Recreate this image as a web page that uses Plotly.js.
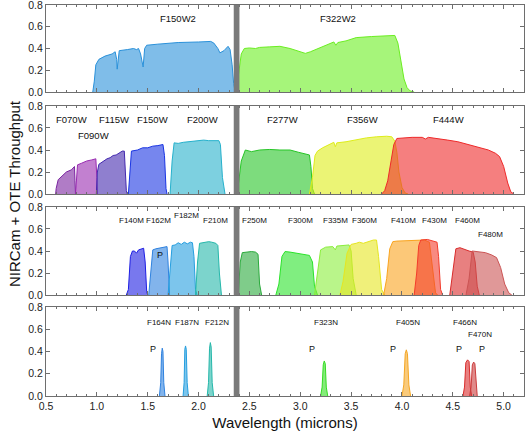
<!DOCTYPE html>
<html>
<head>
<meta charset="utf-8">
<script src="https://cdn.plot.ly/plotly-3.0.1.min.js"></script>
<style>html,body{margin:0;padding:0;background:#fff}#chart{width:525px;height:435px}</style>
</head>
<body>
<div id="chart"></div>
<script>
// ---------------- data (wavelength in microns, throughput) ----------------
// Panel 1: W2 filters
const f150w2_x = [0.96,0.975,0.99,1.02,1.08,1.15,1.18,1.195,1.20,1.21,1.22,1.30,1.36,1.39,1.41,1.43,1.455,1.47,1.49,1.60,1.80,2.00,2.12,2.15,2.19,2.21,2.25,2.29,2.31,2.33,2.345,2.36];
const f150w2_y = [0,0.10,0.25,0.30,0.33,0.35,0.37,0.30,0.21,0.33,0.38,0.39,0.40,0.39,0.40,0.35,0.23,0.40,0.43,0.44,0.455,0.46,0.465,0.45,0.40,0.36,0.38,0.42,0.39,0.25,0.08,0];
const f322w2_x = [2.37,2.39,2.42,2.45,2.50,2.56,2.60,2.70,2.80,2.90,3.00,3.05,3.10,3.20,3.30,3.33,3.35,3.37,3.45,3.55,3.70,3.85,3.93,3.96,3.99,4.02,4.05,4.08,4.12];
const f322w2_y = [0,0.15,0.35,0.40,0.405,0.40,0.41,0.415,0.42,0.40,0.37,0.355,0.37,0.41,0.45,0.46,0.43,0.455,0.47,0.50,0.51,0.52,0.52,0.45,0.28,0.12,0.04,0.01,0];

// Panel 2: wide filters
const f070w_x = [0.595,0.60,0.62,0.65,0.70,0.75,0.77,0.78,0.785,0.79];
const f070w_y = [0,0.05,0.13,0.16,0.20,0.22,0.235,0.25,0.12,0];
const f090w_x = [0.79,0.80,0.81,0.85,0.90,0.95,0.99,1.00,1.005];
const f090w_y = [0,0.20,0.265,0.28,0.30,0.31,0.32,0.15,0];
const f115w_x = [0.995,1.005,1.02,1.05,1.08,1.10,1.13,1.16,1.19,1.22,1.25,1.27,1.28,1.29,1.30];
const f115w_y = [0,0.20,0.27,0.29,0.31,0.32,0.33,0.35,0.355,0.37,0.39,0.39,0.20,0.03,0];
const f150w_x = [1.31,1.325,1.34,1.40,1.45,1.50,1.55,1.60,1.65,1.665,1.68,1.69];
const f150w_y = [0,0.25,0.39,0.40,0.42,0.42,0.435,0.44,0.45,0.35,0.05,0];
const f200w_x = [1.72,1.74,1.76,1.80,1.85,1.90,1.95,2.00,2.05,2.10,2.15,2.20,2.215,2.235,2.26];
const f200w_y = [0,0.30,0.465,0.46,0.47,0.475,0.48,0.485,0.49,0.485,0.485,0.485,0.45,0.15,0];
const f277w_x = [2.38,2.42,2.46,2.50,2.52,2.60,2.70,2.80,2.90,2.98,3.05,3.09,3.105,3.12,3.14];
const f277w_y = [0,0.30,0.40,0.39,0.385,0.40,0.405,0.40,0.40,0.38,0.365,0.355,0.25,0.05,0];
const f356w_x = [3.09,3.12,3.145,3.17,3.22,3.30,3.33,3.345,3.36,3.45,3.55,3.65,3.75,3.85,3.90,3.93,3.95,3.97,4.00,4.03,4.06];
const f356w_y = [0,0.15,0.35,0.39,0.42,0.46,0.47,0.43,0.465,0.475,0.495,0.51,0.52,0.525,0.52,0.48,0.38,0.20,0.06,0.01,0];
const f444w_x = [3.80,3.83,3.86,3.89,3.92,3.95,4.00,4.10,4.20,4.23,4.26,4.35,4.45,4.55,4.65,4.75,4.85,4.92,4.96,5.00,5.04,5.07,5.10];
const f444w_y = [0,0.03,0.12,0.30,0.45,0.505,0.51,0.515,0.515,0.50,0.515,0.505,0.49,0.475,0.45,0.43,0.40,0.37,0.34,0.25,0.10,0.02,0];

// Panel 3: medium filters
const f140m_x = [1.29,1.31,1.33,1.35,1.37,1.39,1.41,1.43,1.46,1.475,1.49,1.50];
const f140m_y = [0,0.05,0.35,0.40,0.40,0.38,0.41,0.415,0.425,0.30,0.03,0];
const f162m_x = [1.51,1.53,1.55,1.58,1.62,1.66,1.69,1.70,1.715];
const f162m_y = [0,0.20,0.41,0.42,0.425,0.435,0.44,0.30,0];
const f182m_x = [1.70,1.72,1.74,1.77,1.80,1.83,1.86,1.89,1.92,1.94,1.955,1.97,1.985];
const f182m_y = [0,0.20,0.45,0.455,0.475,0.46,0.48,0.465,0.48,0.475,0.35,0.05,0];
const f210m_x = [1.97,1.99,2.01,2.05,2.10,2.13,2.17,2.19,2.205,2.225];
const f210m_y = [0,0.30,0.47,0.475,0.485,0.48,0.47,0.45,0.20,0];
const f250m_x = [2.39,2.41,2.43,2.47,2.52,2.56,2.585,2.60,2.62];
const f250m_y = [0,0.30,0.385,0.39,0.395,0.39,0.37,0.10,0];
const f300m_x = [2.76,2.79,2.82,2.85,2.90,2.98,3.04,3.09,3.12,3.14,3.17];
const f300m_y = [0,0.10,0.35,0.395,0.39,0.375,0.37,0.36,0.30,0.08,0];
const f335m_x = [3.14,3.17,3.20,3.25,3.32,3.345,3.36,3.42,3.48,3.50,3.52,3.55];
const f335m_y = [0,0.20,0.41,0.435,0.44,0.41,0.445,0.45,0.455,0.40,0.15,0];
const f360m_x = [3.39,3.42,3.46,3.50,3.55,3.58,3.62,3.66,3.72,3.75,3.77,3.80,3.83];
const f360m_y = [0,0.12,0.38,0.46,0.47,0.48,0.47,0.48,0.50,0.50,0.35,0.05,0];
const f410m_x = [3.82,3.85,3.88,3.91,3.95,4.05,4.15,4.22,4.27,4.30,4.33,4.35];
const f410m_y = [0,0.15,0.42,0.485,0.49,0.495,0.50,0.50,0.48,0.25,0.02,0];
const f430m_x = [4.12,4.145,4.165,4.185,4.25,4.30,4.345,4.36,4.38,4.40];
const f430m_y = [0,0.20,0.45,0.50,0.505,0.495,0.48,0.35,0.05,0];
const f460m_x = [4.47,4.50,4.53,4.57,4.62,4.66,4.70,4.72,4.74,4.76];
const f460m_y = [0,0.20,0.42,0.43,0.41,0.40,0.39,0.30,0.08,0];
const f480m_x = [4.63,4.66,4.69,4.75,4.82,4.88,4.93,4.97,5.01,5.05,5.08];
const f480m_y = [0,0.15,0.40,0.395,0.385,0.365,0.34,0.25,0.10,0.02,0];

// Panel 4: narrow filters
const f164n_x = [1.615,1.628,1.636,1.643,1.650,1.658,1.670];
const f164n_y = [0,0.12,0.38,0.43,0.40,0.12,0];
const f187n_x = [1.848,1.858,1.865,1.872,1.879,1.888,1.900];
const f187n_y = [0,0.12,0.42,0.45,0.42,0.12,0];
const f212n_x = [2.085,2.098,2.108,2.116,2.124,2.134,2.148];
const f212n_y = [0,0.12,0.43,0.48,0.44,0.12,0];
const f323n_x = [3.200,3.215,3.226,3.236,3.246,3.256,3.270];
const f323n_y = [0,0.08,0.28,0.315,0.29,0.08,0];
const f405n_x = [4.000,4.018,4.032,4.043,4.054,4.068,4.085];
const f405n_y = [0,0.10,0.38,0.415,0.38,0.10,0];
const f466n_x = [4.600,4.615,4.628,4.645,4.660,4.672,4.685];
const f466n_y = [0,0.08,0.30,0.325,0.31,0.08,0];
const f470n_x = [4.665,4.680,4.692,4.705,4.717,4.730,4.740];
const f470n_y = [0,0.08,0.28,0.305,0.29,0.08,0];

// dichroic gap (microns)
const gapStart = 2.346;
const gapEnd = 2.402;

// ---------------- styling ----------------
function rgba(hex, a){
  const n = parseInt(hex.slice(1),16);
  return `rgba(${(n>>16)&255},${(n>>8)&255},${n&255},${a})`;
}
const ALPHA = 0.6;
// panel key -> axis suffix (top panel = 4)
const panelAxis = {w2:'4', wide:'3', med:'2', nar:''};

const series = [
  ['w2', f150w2_x, f150w2_y, '#2a91da'],
  ['w2', f322w2_x, f322w2_y, '#6bee21'],
  ['wide', f070w_x, f070w_y, '#7b25a0'],
  ['wide', f090w_x, f090w_y, '#992bb1'],
  ['wide', f115w_x, f115w_y, '#442aaf'],
  ['wide', f150w_x, f150w_y, '#1a35e3'],
  ['wide', f200w_x, f200w_y, '#26b1cc'],
  ['wide', f277w_x, f277w_y, '#26c526'],
  ['wide', f356w_x, f356w_y, '#deed19'],
  ['wide', f444w_x, f444w_y, '#ee2a2a'],
  ['med', f140m_x, f140m_y, '#1e1ee3'],
  ['med', f162m_x, f162m_y, '#2f82df'],
  ['med', f182m_x, f182m_y, '#259edf'],
  ['med', f210m_x, f210m_y, '#25b7aa'],
  ['med', f250m_x, f250m_y, '#2aaa3c'],
  ['med', f300m_x, f300m_y, '#2be32b'],
  ['med', f335m_x, f335m_y, '#8aee3c'],
  ['med', f360m_x, f360m_y, '#e6e621'],
  ['med', f410m_x, f410m_y, '#faa41e'],
  ['med', f430m_x, f430m_y, '#f33c2b'],
  ['med', f460m_x, f460m_y, '#d92b2b'],
  ['med', f480m_x, f480m_y, '#cb5454'],
  ['nar', f164n_x, f164n_y, '#2f82df'],
  ['nar', f187n_x, f187n_y, '#259edf'],
  ['nar', f212n_x, f212n_y, '#25b7aa'],
  ['nar', f323n_x, f323n_y, '#33dd22'],
  ['nar', f405n_x, f405n_y, '#f5a623'],
  ['nar', f466n_x, f466n_y, '#d92b2b'],
  ['nar', f470n_x, f470n_y, '#cb3c3c']
];

const traces = series.map(([p, x, y, c]) => ({
  type:'scatter', mode:'lines', x:x, y:y,
  xaxis:'x'+panelAxis[p], yaxis:'y'+panelAxis[p],
  fill:'tozeroy', fillcolor: rgba(c, ALPHA),
  line:{color:c, width:1}, hoverinfo:'skip', showlegend:false
}));

// labels: [panel, text, x, y, size]
const labels = [
  ['w2','F150W2',1.80,0.68,9.5], ['w2','F322W2',3.37,0.68,9.5],
  ['wide','F070W',0.75,0.68,9.5], ['wide','F090W',0.965,0.53,9.5], ['wide','F115W',1.17,0.68,9.5],
  ['wide','F150W',1.55,0.68,9.5], ['wide','F200W',2.04,0.68,9.5], ['wide','F277W',2.83,0.68,9.5],
  ['wide','F356W',3.61,0.68,9.5], ['wide','F444W',4.46,0.68,9.5],
  ['med','F140M',1.345,0.675,8], ['med','F162M',1.61,0.675,8], ['med','F182M',1.885,0.72,8],
  ['med','F210M',2.17,0.675,8], ['med','F250M',2.55,0.675,8], ['med','F300M',3.005,0.675,8],
  ['med','F335M',3.35,0.675,8], ['med','F360M',3.635,0.675,8], ['med','F410M',4.02,0.675,8],
  ['med','F430M',4.32,0.675,8], ['med','F460M',4.645,0.675,8], ['med','F480M',4.875,0.55,8],
  ['med','P',1.617,0.365,9],
  ['nar','F164N',1.615,0.66,8], ['nar','F187N',1.89,0.66,8], ['nar','F212N',2.185,0.66,8],
  ['nar','F323N',3.25,0.66,8], ['nar','F405N',4.06,0.66,8], ['nar','F466N',4.615,0.66,8],
  ['nar','F470N',4.765,0.55,8],
  ['nar','P',1.55,0.42,9], ['nar','P',3.12,0.42,9], ['nar','P',3.91,0.42,9],
  ['nar','P',4.56,0.42,9], ['nar','P',4.79,0.42,9]
];

const annotations = labels.map(([p,t,x,y,s]) => ({
  text:t, x:x, y:y, xref:'x'+panelAxis[p], yref:'y'+panelAxis[p],
  showarrow:false, font:{family:'Liberation Sans, Arial, sans-serif', size:s, color:'#111'},
  xanchor:'center', yanchor:'middle'
}));
annotations.push({
  text:'NIRCam + OTE Throughput', xref:'paper', yref:'paper', x:-0.067, y:0.519,
  textangle:-90, showarrow:false, xanchor:'center', yanchor:'middle',
  font:{family:'Liberation Sans, Arial, sans-serif', size:15, color:'#111'}
});

const shapes = Object.values(panelAxis).map(s => ({
  type:'rect', xref:'x'+s, yref:'y'+s, x0:gapStart, x1:gapEnd, y0:0, y1:0.8,
  fillcolor:'#7a7a7a', line:{width:0}, layer:'above'
}));

const frame = '#6e6e6e';
const tickFont = {family:'Liberation Sans, Arial, sans-serif', size:10.5, color:'#222'};
function xax(anchor, labelsOn){
  return {
    range:[0.5,5.2], anchor:anchor, domain:[0,1],
    showline:true, linecolor:frame, linewidth:1, mirror:'allticks',
    ticks:'inside', ticklen:4, tickcolor:frame, tickwidth:1,
    tick0:0.5, dtick:0.5, tickformat:'.1f',
    minor:{ticks:'inside', dtick:0.1, ticklen:2, tickcolor:frame, showgrid:false},
    showgrid:false, zeroline:false, showticklabels:labelsOn,
    tickfont:tickFont, fixedrange:true, ticklabeloverflow:'allow'
  };
}
function yax(anchor, dom){
  return {
    range:[0,0.8], domain:dom, anchor:anchor,
    showline:true, linecolor:frame, linewidth:1, mirror:'allticks',
    ticks:'inside', ticklen:4, tickcolor:frame, tickwidth:1,
    tick0:0, dtick:0.2, tickformat:'.1f',
    showgrid:false, zeroline:false, tickfont:tickFont, fixedrange:true,
    ticklabeloverflow:'allow'
  };
}

const xa1 = xax('y', true);
xa1.title = {text:'Wavelength (microns)', font:{family:'Liberation Sans, Arial, sans-serif', size:15, color:'#111'}, standoff:6};

const layout = {
  width:525, height:435,
  margin:{l:46, r:1, t:5, b:39},
  paper_bgcolor:'#fff', plot_bgcolor:'#fff',
  xaxis: xa1,
  xaxis2: Object.assign(xax('y2', false), {matches:'x'}),
  xaxis3: Object.assign(xax('y3', false), {matches:'x'}),
  xaxis4: Object.assign(xax('y4', false), {matches:'x'}),
  yaxis: yax('x', [0,0.2276]),
  yaxis2: yax('x2', [0.2583,0.4834]),
  yaxis3: yax('x3', [0.5166,0.7417]),
  yaxis4: yax('x4', [0.7775,1.0]),
  annotations: annotations,
  shapes: shapes,
  showlegend:false
};

Plotly.newPlot('chart', traces, layout, {displayModeBar:false, staticPlot:true});
</script>
</body>
</html>
